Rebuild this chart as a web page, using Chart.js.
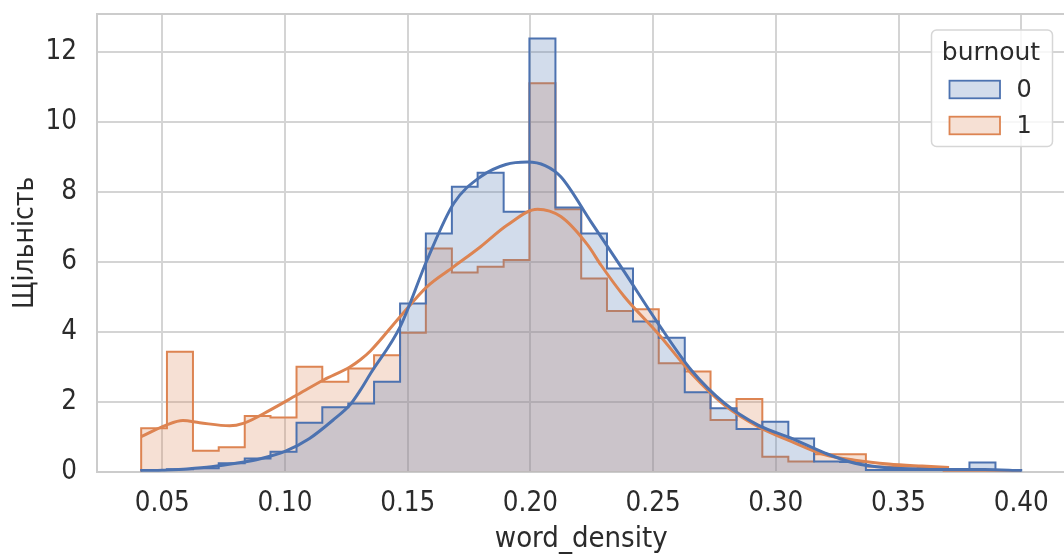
<!DOCTYPE html>
<html lang="uk">
<head>
<meta charset="UTF-8">
<title>word_density</title>
<script src="https://cdn.jsdelivr.net/npm/chart.js"></script>
<style>
  html, body { margin: 0; padding: 0; background: #fff; overflow: hidden; }
  #plot { display: block; }
</style>
</head>
<body>
<canvas id="plot" width="1072" height="554"></canvas>
<script>
// shared histogram bin edges (34 bins)
const binEdges = [0.0414, 0.0519, 0.0625, 0.0730, 0.0836, 0.0941, 0.1047, 0.1152, 0.1258,
  0.1363, 0.1469, 0.1574, 0.1680, 0.1785, 0.1891, 0.1996, 0.2102, 0.2207, 0.2312, 0.2418,
  0.2523, 0.2629, 0.2734, 0.2840, 0.2945, 0.3051, 0.3156, 0.3262, 0.3367, 0.3473, 0.3578,
  0.3684, 0.3789, 0.3895, 0.4000];

// density per bin, burnout = 0
const hist0 = [0.05, 0.07, 0.10, 0.24, 0.38, 0.57, 1.40, 1.84, 1.95, 2.57, 4.81, 6.81,
  8.14, 8.54, 7.43, 12.38, 7.55, 6.81, 5.81, 4.29, 3.83, 2.27, 1.81, 1.22, 1.43, 0.95,
  0.29, 0.28, 0.05, 0.05, 0.05, 0.05, 0.26, 0.05];

// density per bin, burnout = 1
const hist1 = [1.24, 3.43, 0.60, 0.70, 1.59, 1.55, 3.00, 2.57, 2.95, 3.33, 3.97, 6.38,
  5.69, 5.86, 6.05, 11.10, 7.50, 5.52, 4.59, 4.64, 3.10, 2.86, 1.48, 2.08, 0.43, 0.29,
  0.50, 0.50, 0.15, 0.15, 0.12, 0, 0, 0];

// kde curves
const kde0X = [0.0414, 0.050, 0.060, 0.070, 0.080, 0.090, 0.100, 0.110, 0.120, 0.1266,
  0.1307, 0.1348, 0.1469, 0.1579, 0.1688, 0.1797, 0.190, 0.1988, 0.206, 0.2124, 0.2247,
  0.2383, 0.252, 0.2656, 0.2792, 0.2928, 0.3065, 0.3201, 0.3322, 0.346, 0.360, 0.373,
  0.385, 0.395, 0.400];
const kde0Y = [0.01, 0.04, 0.08, 0.14, 0.24, 0.37, 0.58, 0.95, 1.50, 1.92,
  2.33, 2.80, 4.14, 6.05, 7.67, 8.43, 8.78, 8.85, 8.75, 8.43, 7.14,
  5.71, 4.24, 2.90, 1.95, 1.33, 0.95, 0.53, 0.24, 0.11, 0.07, 0.06,
  0.06, 0.04, 0.02];

const kde1X = [0.0414, 0.0516, 0.0584, 0.0652, 0.0775, 0.083, 0.0939, 0.1048, 0.1157,
  0.1266, 0.1307, 0.1348, 0.1469, 0.1579, 0.1688, 0.1797, 0.1906, 0.2029, 0.2124, 0.2233,
  0.2288, 0.2383, 0.252, 0.2656, 0.2792, 0.2928, 0.3065, 0.3201, 0.3322, 0.346, 0.3596,
  0.3706];
const kde1Y = [1.00, 1.33, 1.46, 1.40, 1.31, 1.38, 1.76, 2.19, 2.62,
  3.00, 3.20, 3.45, 4.43, 5.29, 5.86, 6.43, 7.05, 7.50, 7.29, 6.48,
  5.90, 5.00, 3.95, 2.81, 1.90, 1.29, 0.86, 0.48, 0.33, 0.22, 0.16,
  0.12];

const xTicks = [0.05, 0.10, 0.15, 0.20, 0.25, 0.30, 0.35, 0.40];
const yTicks = [0, 2, 4, 6, 8, 10, 12];
const legendTitle = 'burnout';
const legendLabels = ['0', '1'];

const BLUE = '#4c72b0';
const ORANGE = '#dd8452';
const BLUE_FILL = 'rgba(76, 114, 176, 0.25)';
const ORANGE_FILL = 'rgba(221, 132, 82, 0.25)';
const TEXT = '#2b2b2b';
const GRID = '#d4d4d4';
const CONDENSED = '"DejaVu Sans Condensed", "DejaVu Sans", sans-serif';

// outline of a step histogram, closed down to zero at both ends
function stepPoints(edges, heights) {
    const pts = [{x: edges[0], y: 0}];
    heights.forEach((h, i) => pts.push({x: edges[i], y: h}));
    const last = edges.length - 1;
    pts.push({x: edges[last], y: heights[heights.length - 1]});
    pts.push({x: edges[last], y: 0});
    return pts;
}

function curvePoints(xs, ys) {
    return xs.map((x, i) => ({x: x, y: ys[i]}));
}

// top spine + legend box
const frameAndLegend = {
    id: 'frameAndLegend',
    beforeDatasetsDraw(chart) {
        const {ctx, chartArea} = chart;
        ctx.save();
        ctx.strokeStyle = '#cccccc';
        ctx.lineWidth = 2;
        ctx.beginPath();
        ctx.moveTo(chartArea.left, chartArea.top);
        ctx.lineTo(chartArea.right, chartArea.top);
        ctx.lineTo(chartArea.right, chartArea.bottom);
        ctx.stroke();
        ctx.restore();
    },
    afterDraw(chart) {
        const ctx = chart.ctx;
        ctx.save();
        ctx.beginPath();
        ctx.roundRect(931.5, 30, 121, 116.5, 5);
        ctx.fillStyle = 'rgba(255, 255, 255, 0.8)';
        ctx.fill();
        ctx.strokeStyle = '#d6d6d6';
        ctx.lineWidth = 1.5;
        ctx.stroke();

        ctx.fillStyle = TEXT;
        ctx.font = '25px "DejaVu Sans", sans-serif';
        ctx.textAlign = 'center';
        ctx.textBaseline = 'alphabetic';
        ctx.fillText(legendTitle, 991, 59.5);

        const fills = [BLUE_FILL, ORANGE_FILL];
        const edges = [BLUE, ORANGE];
        const rows = [89.5, 125.5];
        ctx.font = '24px "DejaVu Sans", sans-serif';
        ctx.textAlign = 'left';
        ctx.textBaseline = 'middle';
        legendLabels.forEach((lab, i) => {
            const y = rows[i];
            ctx.fillStyle = '#ffffff';
            ctx.fillRect(949.5, y - 8.8, 50.5, 17.6);
            ctx.fillStyle = fills[i];
            ctx.fillRect(949.5, y - 8.8, 50.5, 17.6);
            ctx.strokeStyle = edges[i];
            ctx.lineWidth = 1.8;
            ctx.strokeRect(949.5, y - 8.8, 50.5, 17.6);
            ctx.fillStyle = TEXT;
            ctx.fillText(lab, 1016.5, y + 1);
        });
        ctx.restore();
    }
};

const ctx = document.getElementById('plot').getContext('2d');
new Chart(ctx, {
    type: 'line',
    data: {
        datasets: [
            {
                label: 'kde 0',
                data: curvePoints(kde0X, kde0Y),
                borderColor: BLUE,
                borderWidth: 3,
                pointRadius: 0,
                fill: false,
                cubicInterpolationMode: 'monotone',
                order: 0
            },
            {
                label: 'kde 1',
                data: curvePoints(kde1X, kde1Y),
                borderColor: ORANGE,
                borderWidth: 3,
                pointRadius: 0,
                fill: false,
                cubicInterpolationMode: 'monotone',
                order: 1
            },
            {
                label: legendLabels[0],
                data: stepPoints(binEdges, hist0),
                stepped: 'before',
                borderColor: BLUE,
                borderWidth: 2,
                backgroundColor: BLUE_FILL,
                fill: 'origin',
                pointRadius: 0,
                order: 2
            },
            {
                label: legendLabels[1],
                data: stepPoints(binEdges, hist1),
                stepped: 'before',
                borderColor: ORANGE,
                borderWidth: 2,
                backgroundColor: ORANGE_FILL,
                fill: 'origin',
                pointRadius: 0,
                order: 3
            }
        ]
    },
    options: {
        responsive: false,
        animation: false,
        devicePixelRatio: 1,
        layout: {
            padding: {left: 0, top: 14, right: 6.6, bottom: 0}
        },
        plugins: {
            legend: {display: false},
            tooltip: {enabled: false}
        },
        scales: {
            x: {
                type: 'linear',
                min: 0.0234,
                max: 0.418,
                afterBuildTicks: (scale) => {
                    scale.ticks = xTicks.map(v => ({value: v}));
                },
                afterFit: (scale) => {
                    scale.height = 82.3;
                    scale.paddingLeft = 0;
                    scale.paddingRight = 0;
                },
                ticks: {
                    padding: 15.6,
                    color: TEXT,
                    font: {family: CONDENSED, size: 27.5},
                    maxRotation: 0,
                    callback: (v) => v.toFixed(2)
                },
                grid: {color: GRID, lineWidth: 2, drawTicks: false},
                border: {display: true, color: '#cccccc', width: 2},
                title: {
                    display: true,
                    text: 'word_density',
                    color: TEXT,
                    font: {family: CONDENSED, size: 29, lineHeight: 1},
                    padding: {top: 0, bottom: 0}
                }
            },
            y: {
                min: 0,
                max: 13.08,
                afterBuildTicks: (scale) => {
                    scale.ticks = yTicks.map(v => ({value: v}));
                },
                afterFit: (scale) => {
                    scale.width = 97;
                    scale.paddingTop = 0;
                    scale.paddingBottom = 0;
                },
                ticks: {
                    padding: 20,
                    color: TEXT,
                    font: {family: CONDENSED, size: 27.5},
                    callback: (v) => String(v)
                },
                grid: {color: GRID, lineWidth: 2, drawTicks: false},
                border: {display: true, color: '#cccccc', width: 2},
                title: {
                    display: true,
                    text: 'Щільність',
                    color: TEXT,
                    font: {family: CONDENSED, size: 28, lineHeight: 1.2},
                    padding: {top: 9, bottom: 0}
                }
            }
        }
    },
    plugins: [frameAndLegend]
});
</script>
</body>
</html>
